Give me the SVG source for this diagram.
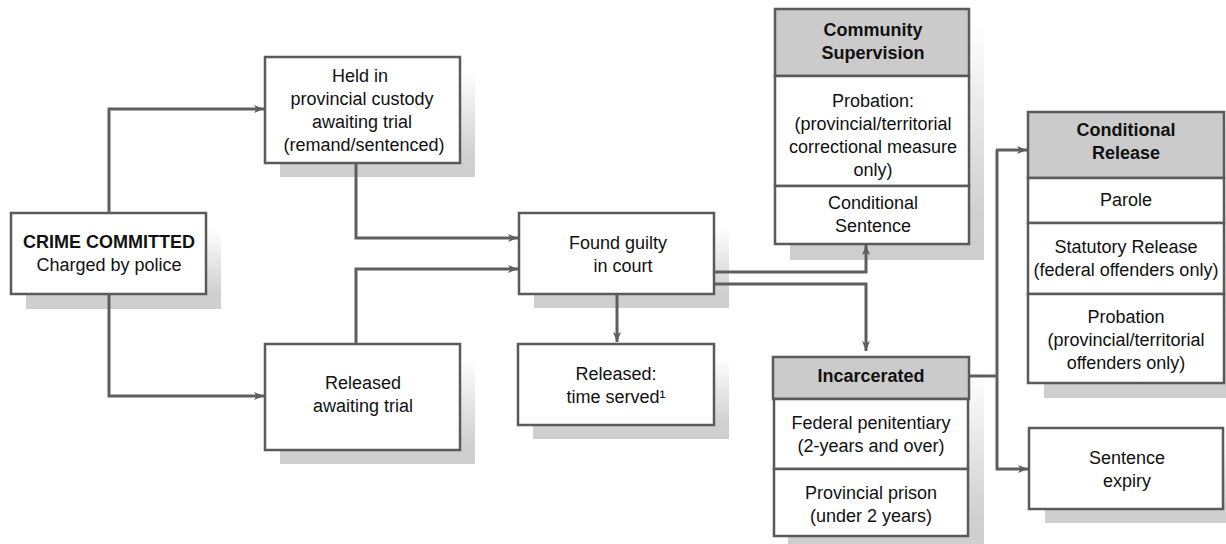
<svg xmlns="http://www.w3.org/2000/svg" width="1226" height="544" viewBox="0 0 1226 544">
<style>
.box{fill:#fff;stroke:#5a5a5a;stroke-width:2.5}
.hdr{fill:#cbcbcb;stroke:#5a5a5a;stroke-width:2.5}
.sh{fill:url(#shg)}
text{font-family:"Liberation Sans",Arial,sans-serif;font-size:18px;fill:#111;text-anchor:middle}
.b{font-weight:bold}
.conn{fill:none;stroke:#5e5e5e;stroke-width:3}
</style>
<defs>
<linearGradient id="shg" x1="0" y1="0" x2="0" y2="1">
<stop offset="0" stop-color="#ffffff"/>
<stop offset="0.8" stop-color="#d0d0d0"/>
<stop offset="1" stop-color="#cecece"/>
</linearGradient>
<marker id="ah" viewBox="0 0 10 8" refX="10" refY="4" markerWidth="10" markerHeight="8" markerUnits="userSpaceOnUse" orient="auto">
<path d="M0,0 L10,4 L0,8 L2.5,4 z" fill="#5e5e5e"/>
</marker>
</defs>

<g id="crime">
<rect class="sh" x="26" y="228" width="195" height="81"/>
<rect class="box" x="11" y="213" width="195" height="81"/>
<text class="b" x="109" y="248">CRIME COMMITTED</text>
<text x="109" y="271">Charged by police</text>
</g>

<g id="held">
<rect class="sh" x="280" y="71" width="195" height="106"/>
<rect class="box" x="265" y="57" width="195" height="106"/>
<text x="360" y="82">Held in</text>
<text x="362" y="105">provincial custody</text>
<text x="362" y="128">awaiting trial</text>
<text x="364" y="151">(remand/sentenced)</text>
</g>

<g id="released-awaiting">
<rect class="sh" x="280" y="358" width="195" height="106"/>
<rect class="box" x="265" y="344" width="195" height="106"/>
<text x="363" y="389">Released</text>
<text x="363" y="412">awaiting trial</text>
</g>

<g id="found-guilty">
<rect class="sh" x="534" y="227" width="195" height="81"/>
<rect class="box" x="519" y="213" width="195" height="81"/>
<text x="618" y="249">Found guilty</text>
<text x="623" y="272">in court</text>
</g>

<g id="released-served">
<rect class="sh" x="533" y="358" width="196" height="81"/>
<rect class="box" x="518" y="344" width="196" height="81"/>
<text x="616" y="380">Released:</text>
<text x="616" y="403">time served¹</text>
</g>

<g id="community">
<rect class="sh" x="790" y="24" width="194" height="236"/>
<rect class="hdr" x="775" y="9" width="194" height="67"/>
<rect class="box" x="775" y="76" width="194" height="110"/>
<rect class="box" x="775" y="186" width="194" height="58"/>
<text class="b" x="873" y="36">Community</text>
<text class="b" x="873" y="59">Supervision</text>
<text x="873" y="107">Probation:</text>
<text x="873" y="130">(provincial/territorial</text>
<text x="873" y="153">correctional measure</text>
<text x="873" y="176">only)</text>
<text x="873" y="209">Conditional</text>
<text x="873" y="232">Sentence</text>
</g>

<g id="incarcerated">
<rect class="sh" x="788" y="372" width="196" height="180"/>
<rect class="hdr" x="773" y="357" width="196" height="42"/>
<rect class="box" x="774" y="399" width="194" height="70"/>
<rect class="box" x="774" y="469" width="194" height="67"/>
<text class="b" x="871" y="382">Incarcerated</text>
<text x="871" y="429">Federal penitentiary</text>
<text x="871" y="452">(2-years and over)</text>
<text x="871" y="499">Provincial prison</text>
<text x="871" y="522">(under 2 years)</text>
</g>

<g id="conditional-release">
<rect class="sh" x="1044" y="127" width="196" height="271"/>
<rect class="hdr" x="1028" y="112" width="196" height="66"/>
<rect class="box" x="1028" y="178" width="196" height="45"/>
<rect class="box" x="1028" y="223" width="196" height="71"/>
<rect class="box" x="1028" y="294" width="196" height="89"/>
<text class="b" x="1126" y="136">Conditional</text>
<text class="b" x="1126" y="159">Release</text>
<text x="1126" y="206">Parole</text>
<text x="1126" y="253">Statutory Release</text>
<text x="1126" y="276">(federal offenders only)</text>
<text x="1126" y="323">Probation</text>
<text x="1126" y="346">(provincial/territorial</text>
<text x="1126" y="369">offenders only)</text>
</g>

<g id="sentence-expiry">
<rect class="sh" x="1045" y="442" width="194" height="81"/>
<rect class="box" x="1029" y="428" width="194" height="81"/>
<text x="1127" y="464">Sentence</text>
<text x="1127" y="487">expiry</text>
</g>

<g id="connectors">
<path class="conn" d="M109,213 V109 H264" marker-end="url(#ah)"/>
<path class="conn" d="M109,294 V396 H264" marker-end="url(#ah)"/>
<path class="conn" d="M356,163 V238 H518" marker-end="url(#ah)"/>
<path class="conn" d="M356,344 V269 H518" marker-end="url(#ah)"/>
<path class="conn" d="M715,272 H866 V245" marker-end="url(#ah)"/>
<path class="conn" d="M715,284 H866 V351" marker-end="url(#ah)"/>
<path class="conn" d="M617,295 V342" marker-end="url(#ah)"/>
<path class="conn" d="M970,376 H997"/>
<path class="conn" d="M997,150 V469 H1028" marker-end="url(#ah)"/>
<path class="conn" d="M996,150 H1027" marker-end="url(#ah)"/>
</g>
</svg>
